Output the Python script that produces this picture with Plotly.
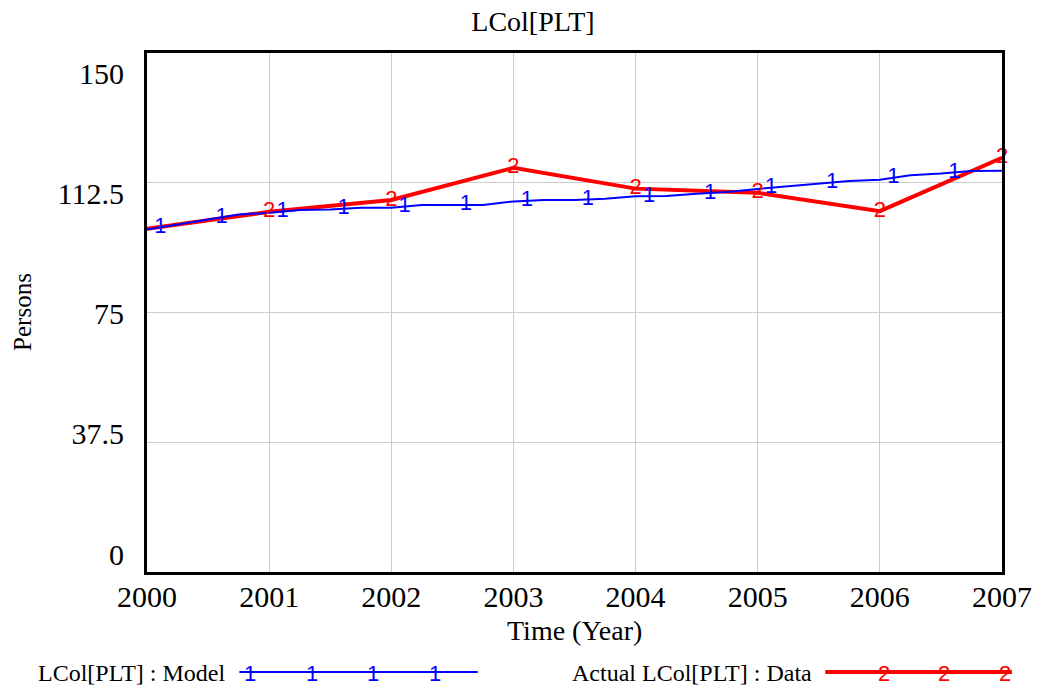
import numpy as np
import plotly.graph_objects as go

# ---- data ----
data_years = [2000, 2001, 2002, 2003, 2004, 2005, 2006, 2007]
data_vals = [99.2, 104.1, 107.5, 116.8, 110.8, 109.6, 104.3, 119.7]

model_t = [2000.0, 2000.25, 2000.5, 2000.75, 2001.0, 2001.25, 2001.5, 2001.75,
           2002.0, 2002.25, 2002.5, 2002.75, 2003.0, 2003.25, 2003.5, 2003.75,
           2004.0, 2004.25, 2004.5, 2004.75, 2005.0, 2005.25, 2005.5, 2005.75,
           2006.0, 2006.25, 2006.5, 2006.75, 2007.0]
model_vals = [99.0, 100.4, 102.0, 103.3, 103.8, 104.6, 104.8, 105.3,
              105.3, 106.1, 106.1, 106.1, 107.1, 107.5, 107.5, 107.9,
              108.6, 108.7, 109.3, 109.8, 110.7, 111.4, 112.3, 113.0,
              113.4, 114.7, 115.2, 115.9, 116.0]

model_marker_t = [2000.11, 2000.61, 2001.11, 2001.61, 2002.11, 2002.61, 2003.11,
                  2003.61, 2004.11, 2004.61, 2005.11, 2005.61, 2006.11, 2006.61]
data_marker_years = data_years[1:]

x_ticks = [2000, 2001, 2002, 2003, 2004, 2005, 2006, 2007]
y_ticks = [0, 37.5, 75, 112.5, 150]
y_tick_labels = ["0", "37.5", "75", "112.5", "150"]

title_text = "LCol[PLT]"
x_title = "Time (Year)"
y_title = "Persons"
model_name = "LCol[PLT] : Model"
data_name = "Actual LCol[PLT] : Data"

BLUE = "#0000ff"
RED = "#ff0000"
SERIF = "Liberation Serif, Times New Roman, serif"
SANS = "Liberation Sans, Arial, sans-serif"

W, H = 1044, 689
L, R, T, B = 147, 36, 53, 117
PW, PH = W - L - R, H - T - B


def px(xp):
    return (xp - L) / PW


def py(yp):
    return (H - B - yp) / PH


fig = go.Figure()

# data (red) line
fig.add_trace(go.Scatter(x=data_years, y=data_vals, mode="lines",
                         line=dict(color=RED, width=4), hoverinfo="skip",
                         showlegend=False))
# model (blue) line
fig.add_trace(go.Scatter(x=model_t, y=model_vals, mode="lines",
                         line=dict(color=BLUE, width=2), hoverinfo="skip",
                         showlegend=False))
# marker numbers
fig.add_trace(go.Scatter(x=model_marker_t,
                         y=np.interp(model_marker_t, model_t, model_vals),
                         mode="text", text=["1"] * len(model_marker_t),
                         textposition="middle center",
                         textfont=dict(family=SANS, size=22, color=BLUE),
                         cliponaxis=False, hoverinfo="skip", showlegend=False))
fig.add_trace(go.Scatter(x=data_marker_years,
                         y=np.interp(data_marker_years, data_years, data_vals),
                         mode="text", text=["2"] * len(data_marker_years),
                         textposition="middle center",
                         textfont=dict(family=SANS, size=22, color=RED),
                         cliponaxis=False, hoverinfo="skip", showlegend=False))
# dummy trace for label axis
fig.add_trace(go.Scatter(x=[], y=[], yaxis="y2", showlegend=False,
                         hoverinfo="skip"))

# y-range of the label axis so labels spread like the reference
lab_top_px, lab_bot_px = 73, 554
upp = (y_ticks[-1] - y_ticks[0]) / (lab_bot_px - lab_top_px)
y2_lo = y_ticks[0] - (H - B - lab_bot_px) * upp
y2_hi = y_ticks[-1] + (lab_top_px - T) * upp

fig.update_layout(
    width=W, height=H,
    margin=dict(l=L, r=R, t=T, b=B),
    paper_bgcolor="white", plot_bgcolor="white",
    title=dict(text=title_text, x=533 / W, xanchor="center",
               y=1 - 21 / H, yanchor="middle",
               font=dict(family=SERIF, size=28, color="black")),
    xaxis=dict(range=[2000, 2007], tickvals=x_ticks,
               ticktext=[str(v) for v in x_ticks],
               tickfont=dict(family=SERIF, size=30, color="black"),
               showgrid=True, gridcolor="#cccccc", gridwidth=1,
               showline=True, linecolor="black", linewidth=3, mirror=True,
               ticks="", zeroline=False, ticklabelstandoff=-4),
    yaxis=dict(range=[0, 150], tickvals=y_ticks, showticklabels=False,
               showgrid=True, gridcolor="#cccccc", gridwidth=1,
               showline=True, linecolor="black", linewidth=3, mirror=True,
               ticks="", zeroline=False),
    yaxis2=dict(range=[y2_lo, y2_hi], overlaying="y", side="left",
                tickvals=y_ticks, ticktext=y_tick_labels,
                tickfont=dict(family=SERIF, size=30, color="black"),
                showgrid=False, showline=False, zeroline=False, ticks="",
                ticklabelstandoff=22),
)

ann = [
    dict(text=x_title, x=0.5, y=py(630), xref="paper", yref="paper",
         xanchor="center", yanchor="middle", showarrow=False,
         font=dict(family=SERIF, size=28, color="black")),
    dict(text=y_title, x=px(21), y=py(312), xref="paper", yref="paper",
         xanchor="center", yanchor="middle", showarrow=False, textangle=-90,
         font=dict(family=SERIF, size=25, color="black")),
    dict(text=model_name, x=px(35), y=py(673), xref="paper", yref="paper",
         xanchor="left", yanchor="middle", showarrow=False,
         font=dict(family=SERIF, size=24, color="black")),
    dict(text=data_name, x=px(573), y=py(673), xref="paper", yref="paper",
         xanchor="left", yanchor="middle", showarrow=False,
         font=dict(family=SERIF, size=24, color="black")),
]
for xp in [251, 313, 375, 437]:
    ann.append(dict(text="1", x=px(xp), y=py(673), xref="paper", yref="paper",
                    xanchor="center", yanchor="middle", showarrow=False,
                    font=dict(family=SANS, size=22, color=BLUE)))
for xp in [889, 950, 1011]:
    ann.append(dict(text="2", x=px(xp), y=py(673), xref="paper", yref="paper",
                    xanchor="center", yanchor="middle", showarrow=False,
                    font=dict(family=SANS, size=22, color=RED)))
fig.update_layout(annotations=ann)

fig.update_layout(shapes=[
    dict(type="line", xref="paper", yref="paper", x0=px(240), x1=px(480),
         y0=py(672), y1=py(672), line=dict(color=BLUE, width=2)),
    dict(type="line", xref="paper", yref="paper", x0=px(830), x1=px(1018),
         y0=py(672), y1=py(672), line=dict(color=RED, width=4)),
])

fig.write_html("out.html", config={"displayModeBar": False},
               post_script="document.body.style.margin='0';"
                           "document.body.style.overflow='hidden';")
